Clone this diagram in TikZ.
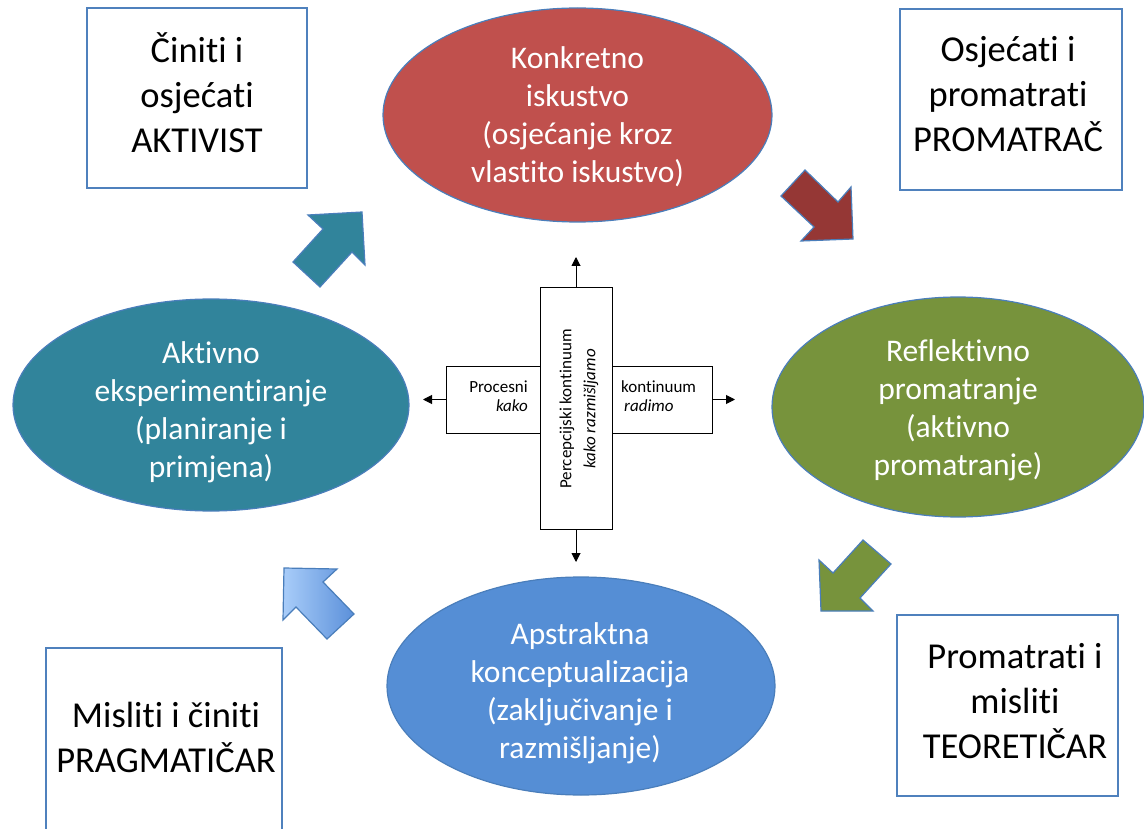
\documentclass[tikz,border=0pt]{standalone}
\usepackage{fontspec}
\setmainfont[RawFeature={-liga;-clig;-calt;-dlig}]{Carlito}
\usetikzlibrary{shapes.geometric,arrows.meta}
\definecolor{boxblue}{HTML}{4F81BD}
\definecolor{edgeblue}{HTML}{4A7EBB}
\definecolor{redfill}{HTML}{C0504D}
\definecolor{redarrow}{HTML}{953735}
\definecolor{greenfill}{HTML}{77933C}
\definecolor{tealfill}{HTML}{31849B}
\definecolor{bluefill}{HTML}{558ED5}
\definecolor{lightblue}{HTML}{A9CDF9}
\definecolor{midblue}{HTML}{5B90DA}
\begin{document}
\begin{tikzpicture}[x=1pt,y=-1pt,
  lab/.style={rectangle, draw=boxblue, line width=1.3pt, fill=white, inner sep=0pt},
  boxtext/.style={font=\fontsize{36.5}{45}\selectfont, align=center, text=black, inner sep=0pt},
  ell/.style={ellipse, draw=edgeblue, line width=1.2pt, inner sep=0pt},
  elltext/.style={font=\fontsize{31.5}{38}\selectfont, align=center, text=white, inner sep=0pt},
  blockarrow/.style={draw=edgeblue, line width=1.2pt, line join=miter},
  axbox/.style={rectangle, draw=black, line width=1pt, fill=white, inner sep=0pt},
  axarrow/.style={-{Triangle[length=9pt,width=9pt]}, line width=1pt},
  small/.style={font=\fontsize{17}{19}\selectfont, inner sep=0pt}
]
\useasboundingbox (0,0) rectangle (1144,829);
\clip (0,0) rectangle (1144,829);
\fill[white] (0,0) rectangle (1144,829);

% corner boxes
\node[lab, minimum width=220pt, minimum height=180pt] (akt) at (197,98) {};
\node[boxtext] (akttext) at (197,93) {Činiti i\\osjećati\\AKTIVIST};

\node[lab, minimum width=222pt, minimum height=181pt] (prom) at (1011,99.5) {};
\node[boxtext] (promtext) at (1008,94) {Osjećati i\\promatrati\\PROMATRAČ};

\node[lab, minimum width=221pt, minimum height=181pt] (teor) at (1007.5,705.5) {};
\node[boxtext] (teortext) at (1015,701) {Promatrati i\\misliti\\TEORETIČAR};

\node[lab, minimum width=236pt, minimum height=185pt] (prag) at (164,740.5) {};
\node[boxtext] (pragtext) at (166,737) {Misliti i činiti\\PRAGMATIČAR};

% ellipses
\node[ell, fill=redfill, minimum width=389pt, minimum height=214pt] (konk) at (577.5,115) {};
\node[elltext] (konktext) at (577.5,117) {Konkretno\\iskustvo\\(osjećanje kroz\\vlastito iskustvo)};

\node[ell, fill=greenfill, minimum width=372pt, minimum height=220pt] (refl) at (958,407) {};
\node[elltext] (refltext) at (958,410) {Reflektivno\\promatranje\\(aktivno\\promatranje)};

\node[ell, fill=tealfill, minimum width=396pt, minimum height=212pt] (aktiv) at (211,405) {};
\node[elltext] (aktivtext) at (211,412) {Aktivno\\eksperimentiranje\\(planiranje i\\primjena)};

\node[ell, fill=bluefill, minimum width=388pt, minimum height=218pt] (apst) at (581,686) {};
\node[elltext] (apsttext) at (580,693) {Apstraktna\\konceptualizacija\\(zaključivanje i\\razmišljanje)};

% block arrows
\draw[blockarrow, fill=tealfill] (362,212) -- (308,215) -- (323,229) -- (293,262) -- (320,287) -- (352,252) -- (365,265) -- cycle;
\draw[blockarrow, fill=redarrow] (805,170) -- (838,202) -- (851,187) -- (853,239) -- (801,241) -- (814,227) -- (781,196) -- cycle;
\draw[blockarrow, fill=greenfill] (863,540) -- (891,564) -- (860,598) -- (873,611) -- (821,611) -- (819,560) -- (833,573) -- cycle;
\draw[blockarrow, left color=lightblue, right color=midblue] (284,568) -- (337,569) -- (323,582) -- (354,614) -- (327,639) -- (296,607) -- (283,620) -- cycle;

% central cross
\node[axbox, minimum width=266pt, minimum height=67pt] (hrect) at (579,399.5) {};
\node[axbox, minimum width=72pt, minimum height=241pt] (vrect) at (576,408.5) {};
\coordinate (up) at (576,257);
\coordinate (down) at (576,562);
\coordinate (left) at (423,399.5);
\coordinate (right) at (735,399.5);
\draw[axarrow] (vrect.north) -- (up);
\draw[axarrow] (vrect.south) -- (down);
\draw[axarrow] (hrect.west) -- (left);
\draw[axarrow] (hrect.east) -- (right);

\node[small, anchor=base east] (proc) at (528,392) {Procesni};
\node[small, anchor=base east] (kako) at (528,411) {\itshape kako};
\node[small, anchor=base west] (kont) at (621,392) {kontinuum};
\node[small, anchor=base west] (radi) at (624,411) {\itshape radimo};
\node[small, rotate=90, align=center, font=\fontsize{17}{24}\selectfont] (perc) at (579,409) {Percepcijski kontinuum\\\itshape kako razmišljamo};
\end{tikzpicture}
\end{document}
